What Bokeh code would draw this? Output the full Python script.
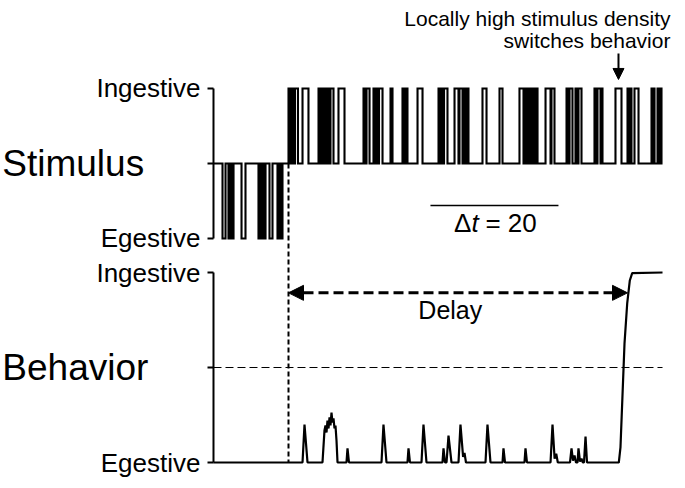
from bokeh.plotting import figure
from bokeh.models import Range1d, FixedTicker, Label, Arrow, NormalHead
from bokeh.embed import file_html
from bokeh.resources import INLINE

# ---------------- data (time units; scale bar = 20) ----------------
EGESTIVE_ON = [1.41, 2.34, 2.81, 4.38, 7.03, 7.5, 7.89, 8.75, 10.0, 10.47]
EGESTIVE_OFF = [1.88, 2.66, 3.13, 5.0, 7.34, 7.81, 8.13, 9.22, 10.31, 10.78]
SWITCH_T = 11.72
INGESTIVE_ON = [11.72, 12.11, 12.42, 12.73, 13.91, 16.41, 16.88, 17.34, 17.81, 18.28,
                19.53, 23.44, 23.91, 25.0, 25.47, 25.86, 27.66, 29.53, 30.0, 31.88,
                35.16, 35.63, 36.02, 37.66, 38.44, 39.06, 39.53, 42.03, 44.69, 47.81,
                48.75, 49.22, 49.53, 50.0, 50.39, 51.88, 52.81, 55.16, 55.63, 56.56,
                57.03, 59.53, 60.0, 60.55, 62.81, 64.69, 65.08, 65.78, 68.44, 68.75,
                69.38, 69.77]
INGESTIVE_OFF = [12.03, 12.34, 12.66, 13.2, 14.84, 16.72, 17.19, 17.66, 18.13, 18.75,
                 20.47, 23.75, 24.38, 25.31, 25.78, 26.41, 27.97, 29.84, 30.31, 32.66,
                 35.47, 35.94, 36.56, 38.28, 38.91, 39.38, 39.84, 42.66, 45.16, 48.44,
                 49.06, 49.45, 49.84, 50.31, 50.63, 52.66, 53.28, 55.47, 56.09, 56.88,
                 57.5, 59.77, 60.47, 60.78, 63.75, 65.0, 65.31, 66.41, 68.67, 68.91,
                 69.69, 70.0]
T_END = 70.16

BEHAV_T = [0, 13.91, 14.22, 14.69,
           17.03, 17.34, 17.5, 17.66, 17.81, 17.97, 18.13, 18.28, 18.44, 18.59, 18.75,
           18.91, 19.06, 19.22, 19.38,
           20.78, 20.94, 21.17, 26.25, 26.56, 27.03, 30.31, 30.47, 30.7,
           32.5, 32.81, 33.28, 35.78, 35.94, 36.17, 36.41, 36.72, 37.19,
           38.28, 38.59, 39.0, 39.22, 39.45, 42.5, 42.81, 43.28, 45.16, 45.31, 45.55,
           48.59, 48.75, 48.98, 52.66, 52.97, 53.3, 53.55, 53.8,
           55.7, 55.94, 56.17, 56.41, 56.64, 56.88, 57.03, 57.27, 57.5, 57.7, 57.89,
           58.13, 58.36,
           63.33, 63.59, 64.22, 64.64, 65.05, 65.42, 70.16]
BEHAV_Y = [0, 0, 0.2, 0,
           0, 0.168, 0.195, 0.158, 0.221, 0.179, 0.237, 0.195, 0.263, 0.21, 0.232,
           0.179, 0.195, 0.116, 0,
           0, 0.074, 0, 0, 0.2, 0, 0, 0.074, 0,
           0, 0.2, 0, 0, 0.074, 0, 0, 0.142, 0,
           0, 0.2, 0.03, 0.05, 0, 0, 0.2, 0, 0, 0.074, 0,
           0, 0.074, 0, 0, 0.2, 0.02, 0.047, 0,
           0, 0.074, 0.01, 0.037, 0, 0, 0.074, 0.005, 0.02, 0, 0,
           0.137, 0,
           0, 0.08, 0.626, 0.837, 0.958, 0.997, 1.0]

SCALE_LEN = 20
TICK_LABELS = ["Egestive", "Ingestive", "Egestive", "Ingestive"]

# ---------------- layout constants ----------------
STIM_BASE = 1.574
STIM_AMP = 0.3947
FONT = "Liberation Sans"

# build stimulus step trace
pulses = sorted([(a, b, -1) for a, b in zip(EGESTIVE_ON, EGESTIVE_OFF)] +
                [(a, b, 1) for a, b in zip(INGESTIVE_ON, INGESTIVE_OFF)])
sx, sy = [0.0], [0.0]
for a, b, s in pulses:
    sx += [a, a, b, b]
    sy += [0, s, s, 0]
sx.append(T_END)
sy.append(0)
sy = [STIM_BASE + STIM_AMP * v for v in sy]

p = figure(width=677, height=480, output_backend="svg", toolbar_location=None,
           x_range=Range1d(-33.28, 72.5), y_range=Range1d(-0.0947, 2.4316),
           min_border=0)
p.xaxis.visible = False
p.grid.visible = False
p.outline_line_color = None

ticks = [0, 0.5, 1, STIM_BASE - STIM_AMP, STIM_BASE, STIM_BASE + STIM_AMP]
p.yaxis.fixed_location = 0
p.yaxis.ticker = FixedTicker(ticks=ticks)
p.yaxis.major_label_overrides = {
    ticks[0]: TICK_LABELS[0], ticks[1]: "", ticks[2]: TICK_LABELS[1],
    ticks[3]: TICK_LABELS[2], ticks[4]: "", ticks[5]: TICK_LABELS[3]}
p.yaxis.axis_line_color = None
p.yaxis.major_tick_out = 6
p.yaxis.major_tick_in = 0
p.yaxis.major_tick_line_width = 2
p.yaxis.minor_tick_line_color = None
p.yaxis.major_label_text_font = FONT
p.yaxis.major_label_text_font_size = "26px"
p.yaxis.major_label_text_color = "black"
p.yaxis.major_label_standoff = 7

# axis spines (two separate segments)
p.segment(x0=[0, 0], y0=[0, STIM_BASE - STIM_AMP], x1=[0, 0],
          y1=[1, STIM_BASE + STIM_AMP], line_width=2, line_color="black")

# behavior midline
p.segment(x0=[0], y0=[0.5], x1=[T_END], y1=[0.5], line_width=1,
          line_color="black", line_dash="8 4")

# switch dashed line
p.segment(x0=[SWITCH_T], y0=[STIM_BASE], x1=[SWITCH_T], y1=[0], line_width=2,
          line_color="black", line_dash="5 3")

# traces
p.line(sx, sy, line_width=2.1, line_color="black", line_join="miter")
p.line(BEHAV_T, BEHAV_Y, line_width=2.2, line_color="black")

# scale bar
p.segment(x0=[33.9], y0=[1.353], x1=[33.9 + SCALE_LEN], y1=[1.353],
          line_width=1.5, line_color="black")

# delay arrow
p.add_layout(Arrow(x_start=SWITCH_T, y_start=0.893, x_end=64.69, y_end=0.893,
                   line_width=3, line_dash="10 5", line_color="black",
                   start=NormalHead(size=15, fill_color="black", line_color="black"),
                   end=NormalHead(size=15, fill_color="black", line_color="black")))
# annotation arrow
p.add_layout(Arrow(x_start=63.28, y_start=2.153, x_end=63.28, y_end=2.016,
                   line_width=2, line_color="black",
                   end=NormalHead(size=11, fill_color="black", line_color="black")))

def lab(x, y, text, size, align="left", style="normal", xoff=0):
    p.add_layout(Label(x=x, y=y, text=text, text_font=FONT,
                       text_font_size=size, text_align=align,
                       text_baseline="middle", text_color="black",
                       text_font_style=style, x_offset=xoff))

lab(-33.0, STIM_BASE, "Stimulus", "37px")
lab(-33.0, 0.5, "Behavior", "37px")
lab(37.0, 0.805, "Delay", "25px", align="center")
lab(40.3, 1.263, "\u0394", "26px", align="right")
lab(40.3, 1.263, "t", "26px", style="italic")
lab(40.3, 1.263, "= " + str(SCALE_LEN), "26px", xoff=14)
lab(71.4, 2.337, "Locally high stimulus density", "21px", align="right")
lab(71.4, 2.221, "switches behavior", "21px", align="right")

open("out.html", "w").write(file_html(p, INLINE))
